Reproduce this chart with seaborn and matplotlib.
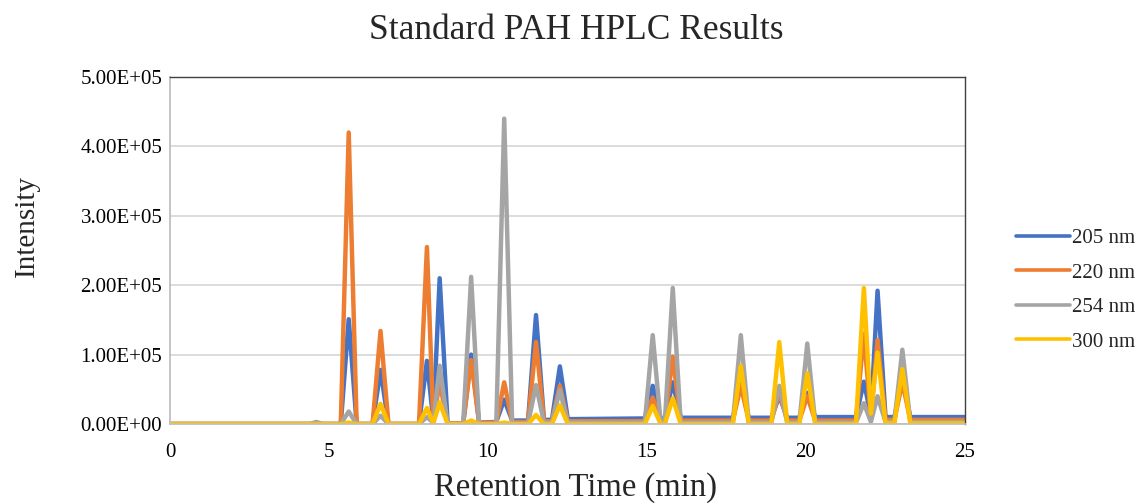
import matplotlib
matplotlib.use("Agg")
import matplotlib.pyplot as plt
import matplotlib.ticker as mticker
import seaborn as sns
import pandas as pd

# ---- data ----
time_min = [0, 4.4, 4.6, 4.8, 5.37, 5.62, 5.87, 6.37, 6.62, 6.87,
            7.83, 8.08, 8.28, 8.48, 8.73, 9.22, 9.47, 9.72, 10.26, 10.51,
            10.76, 11.26, 11.51, 11.76, 12.01, 12.26, 12.51, 14.93, 15.18, 15.43,
            15.56, 15.81, 16.06, 17.7, 17.95, 18.2, 18.91, 19.16, 19.41, 19.79,
            20.04, 20.29, 21.57, 21.82, 22.04, 22.25, 22.5, 22.78, 23.03, 23.28,
            25.0]

nm205 = [0, 0, 0, 0, 0, 1.51e5, 0, 0, 0.78e5, 0,
         0, 0.91e5, 0.05e5, 2.10e5, 0.01e5, 0.01e5, 1.00e5, 0.02e5, 0.03e5, 0.35e5,
         0.05e5, 0.05e5, 1.57e5, 0.06e5, 0.06e5, 0.83e5, 0.07e5, 0.08e5, 0.55e5, 0.08e5,
         0.08e5, 0.60e5, 0.09e5, 0.09e5, 0.60e5, 0.09e5, 0.09e5, 0.40e5, 0.09e5, 0.09e5,
         0.45e5, 0.10e5, 0.10e5, 0.61e5, 0.12e5, 1.92e5, 0.10e5, 0.10e5, 0.65e5, 0.10e5,
         0.10e5]

nm220 = [0, 0, 0, 0, 0, 4.20e5, 0, 0, 1.34e5, 0,
         0, 2.55e5, 0.04e5, 0.60e5, 0.01e5, 0.01e5, 0.92e5, 0.02e5, 0.02e5, 0.60e5,
         0.03e5, 0.03e5, 1.18e5, 0.04e5, 0.04e5, 0.55e5, 0.04e5, 0.04e5, 0.38e5, 0.04e5,
         0.04e5, 0.97e5, 0.05e5, 0.05e5, 0.55e5, 0.05e5, 0.05e5, 0.45e5, 0.05e5, 0.05e5,
         0.40e5, 0.05e5, 0.05e5, 1.30e5, 0.08e5, 1.21e5, 0.06e5, 0.06e5, 0.60e5, 0.06e5,
         0.06e5]

nm254 = [0, 0, 0.03e5, 0, 0, 0.18e5, 0, 0, 0.12e5, 0,
         0, 0.10e5, 0.02e5, 0.84e5, 0, 0, 2.12e5, 0, 0, 4.40e5,
         0.01e5, 0.01e5, 0.56e5, 0.02e5, 0.02e5, 0.49e5, 0.02e5, 0.02e5, 1.28e5, 0.02e5,
         0.02e5, 1.96e5, 0.02e5, 0.02e5, 1.28e5, 0.02e5, 0.02e5, 0.55e5, 0.02e5, 0.02e5,
         1.16e5, 0.02e5, 0.02e5, 0.30e5, 0.03e5, 0.40e5, 0.03e5, 0.03e5, 1.07e5, 0.03e5,
         0.03e5]

nm300 = [0, 0, 0, 0, 0, 0.02e5, 0, 0, 0.29e5, 0,
         0, 0.23e5, 0.01e5, 0.31e5, 0, 0, 0.05e5, 0, 0, 0.02e5,
         0, 0, 0.13e5, 0, 0, 0.27e5, 0, 0, 0.26e5, 0,
         0, 0.37e5, 0, 0, 0.84e5, 0, 0, 1.18e5, 0, 0,
         0.73e5, 0, 0, 1.96e5, 0.15e5, 1.03e5, 0.01e5, 0.01e5, 0.79e5, 0.01e5,
         0.01e5]

series_names = ["205 nm", "220 nm", "254 nm", "300 nm"]
series_colors = ["#4472C4", "#ED7D31", "#A5A5A5", "#FFC000"]
x_ticks = [0, 5, 10, 15, 20, 25]
y_ticks = [0, 1e5, 2e5, 3e5, 4e5, 5e5]

# ---- build long table ----
frames = []
for name, vals in zip(series_names, [nm205, nm220, nm254, nm300]):
    frames.append(pd.DataFrame({"time": time_min, "intensity": vals, "series": name}))
df = pd.concat(frames, ignore_index=True)

sns.set_style("white")
plt.rcParams["font.family"] = ["Liberation Serif", "DejaVu Serif"]

fig = plt.figure(figsize=(11.43, 5.03), dpi=100)
ax = fig.add_axes([170 / 1143, (503 - 424) / 503, (965 - 170) / 1143, (424 - 77) / 503])

sns.lineplot(data=df, x="time", y="intensity", hue="series", hue_order=series_names,
             palette=series_colors, linewidth=3.2, ax=ax, estimator=None, sort=False)
for ln in ax.get_lines():
    ln.set_solid_joinstyle("round")

ax.set_xlim(0, 25)
ax.set_ylim(0, 5e5)
ax.set_xticks(x_ticks)
ax.set_yticks(y_ticks)
ax.yaxis.set_major_formatter(mticker.FuncFormatter(lambda v, p: f"{v:.2E}"))
ax.xaxis.set_major_formatter(mticker.FuncFormatter(lambda v, p: f"{v:g}"))

ax.grid(axis="y", color="#D9D9D9", linewidth=1.3)
ax.grid(axis="x", visible=False)
ax.set_axisbelow(True)

for side in ["left", "bottom"]:
    ax.spines[side].set_color("#BFBFBF")
    ax.spines[side].set_linewidth(1.3)
for side in ["top", "right"]:
    ax.spines[side].set_color("#404040")
    ax.spines[side].set_linewidth(1.0)

ax.tick_params(axis="both", which="major", direction="inout", length=7, width=1.2,
               color="#BFBFBF", labelsize=15, labelcolor="#000000")
ax.tick_params(axis="y", pad=2)
ax.tick_params(axis="x", pad=10)

ax.set_xlabel("Retention Time (min)", fontsize=23.5)
ax.xaxis.set_label_coords((575 - 170) / 795, (424 - 488) / 347, transform=ax.transAxes)
ax.set_ylabel("Intensity", fontsize=21)
ax.yaxis.set_label_coords((27 - 170) / 795, (424 - 226) / 347, transform=ax.transAxes)
ax.xaxis.label.set_va("center")
ax.yaxis.label.set_va("center")
fig.suptitle("Standard PAH HPLC Results", fontsize=25.5, x=576 / 1143, y=0.972)

ax.legend(loc="center left", bbox_to_anchor=(1016 / 1143, (503 - 290) / 503),
          bbox_transform=fig.transFigure, frameon=False, fontsize=15,
          handlelength=2.6, handletextpad=0.1, labelspacing=0.72,
          borderpad=0, borderaxespad=0, title=None)
for line in ax.get_legend().get_lines():
    line.set_linewidth(2.6)

fig.savefig("out.png", dpi=100)
